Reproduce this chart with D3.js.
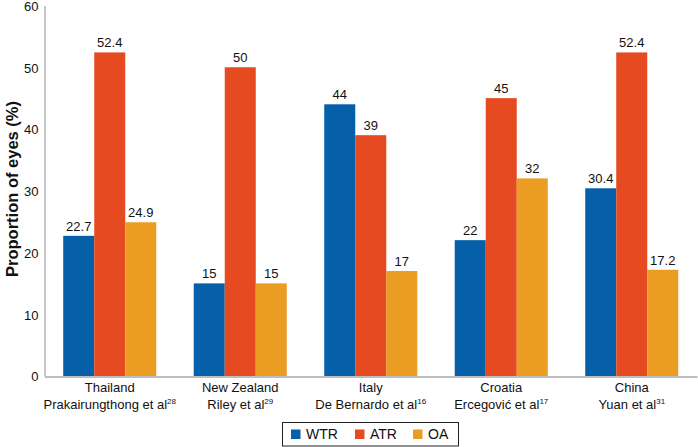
<!DOCTYPE html>
<html><head><meta charset="utf-8">
<script src="https://cdn.jsdelivr.net/npm/d3@7"></script>
<style>
html,body{margin:0;padding:0;background:#fff;}
text{font-family:"Liberation Sans",Arial,Helvetica,sans-serif;fill:#111;}
</style></head>
<body><svg id="chart" width="698" height="447"></svg>
<script>
const countries = ["Thailand","New Zealand","Italy","Croatia","China"];
const authors = ["Prakairungthong et al","Riley et al","De Bernardo et al","Ercegović et al","Yuan et al"];
const refs = ["28","29","16","17","31"];
const seriesNames = ["WTR","ATR","OA"];
const wtr = [22.7,15,44,22,30.4];
const atr = [52.4,50,39,45,52.4];
const oa = [24.9,15,17,32,17.2];
const valueLabels = [["22.7","15","44","22","30.4"],["52.4","50","39","45","52.4"],["24.9","15","17","32","17.2"]];
const yTicks = [0,10,20,30,40,50,60];
const colors = ["#055fa9","#e64a21","#eb9c23"];

const series = [wtr, atr, oa];
const svg = d3.select("#chart");
const x0 = d3.scaleBand().domain(countries).range([44.5, 697]).paddingInner(0.287).paddingOuter(0.1435);
const x1 = d3.scaleBand().domain(seriesNames).range([0, x0.bandwidth()]);
const y = d3.scaleLinear().domain([0,60]).range([376, 5.5]);

// bars
seriesNames.forEach((s, si) => {
  const g = svg.append("g");
  g.selectAll("rect").data(countries).join("rect")
    .attr("x", c => x0(c) + x1(s))
    .attr("y", (c,i) => y(series[si][i]))
    .attr("width", x1.bandwidth())
    .attr("height", (c,i) => y(0) - y(series[si][i]))
    .attr("fill", colors[si]);
  g.selectAll("text").data(countries).join("text")
    .attr("x", c => x0(c) + x1(s) + x1.bandwidth()/2)
    .attr("y", (c,i) => y(series[si][i]) - 5)
    .attr("text-anchor","middle")
    .style("font-size","13px")
    .text((c,i) => valueLabels[si][i]);
});

// y axis
const yAxis = d3.axisLeft(y).tickValues(yTicks).tickSize(0).tickPadding(6);
const ya = svg.append("g").attr("transform","translate(44.5,0)").call(yAxis);
ya.select(".domain").attr("stroke","#a8a8a8").attr("stroke-width",1.3);
ya.selectAll("text").style("font-size","13px").attr("fill","#111").attr("dy","0.38em")
  .style("font-family","Liberation Sans, Arial, sans-serif");

// x axis
const xAxis = d3.axisBottom(x0).tickSize(0).tickFormat("");
const xa = svg.append("g").attr("transform","translate(0,376.5)").call(xAxis);
xa.select(".domain").attr("stroke","#a8a8a8").attr("stroke-width",1.3);

// category labels
countries.forEach((c, i) => {
  const cx = x0(c) + x0.bandwidth()/2;
  svg.append("text").attr("x", cx).attr("y", 392).attr("text-anchor","middle")
    .style("font-size","13px").text(c);
  const t = svg.append("text").attr("x", cx).attr("y", 409).attr("text-anchor","middle")
    .style("font-size","13px");
  t.append("tspan").text(authors[i]);
  t.append("tspan").attr("dy","-5").style("font-size","8px").text(refs[i]);
});

// y title
svg.append("text").attr("transform","translate(18,189) rotate(-90)")
  .attr("text-anchor","middle").style("font-size","16.5px").style("font-weight","bold")
  .text("Proportion of eyes (%)");

// legend
const lg = svg.append("g");
lg.append("rect").attr("x",282.5).attr("y",422.5).attr("width",176).attr("height",23.5)
  .attr("fill","none").attr("stroke","#222").attr("stroke-width",1);
const legX = [291, 355, 413];
seriesNames.forEach((s, i) => {
  lg.append("rect").attr("x",legX[i]).attr("y",429.5).attr("width",9.5).attr("height",9.5).attr("fill",colors[i]);
  lg.append("text").attr("x",legX[i]+15).attr("y",439).style("font-size","14px").text(s);
});
</script></body></html>
